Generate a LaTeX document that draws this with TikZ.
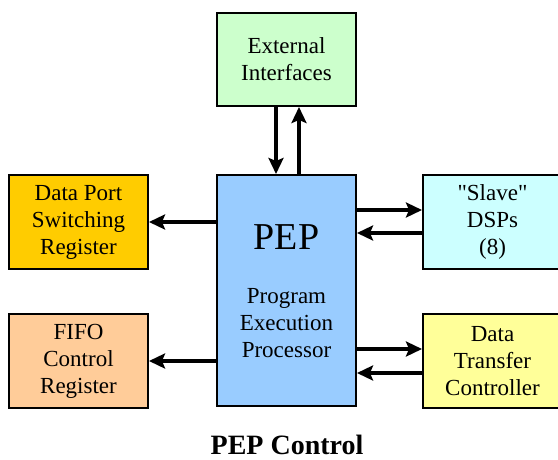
\documentclass[tikz,border=0pt]{standalone}
\usepackage{fontspec}
\setmainfont{Liberation Serif}
\usetikzlibrary{arrows.meta}

\definecolor{extgreen}{HTML}{CCFFCC}
\definecolor{pepblue}{HTML}{99CCFF}
\definecolor{dportgold}{HTML}{FFCC00}
\definecolor{fifopeach}{HTML}{FFCC99}
\definecolor{slavecyan}{HTML}{CCFFFF}
\definecolor{dtcyellow}{HTML}{FFFF99}

\begin{document}
\begin{tikzpicture}[x=1pt, y=-1pt,
  blk/.style={draw=black, line width=2pt, minimum width=139pt, minimum height=94pt,
    inner sep=0pt, align=center, font=\fontsize{23}{27}\selectfont},
  link/.style={line width=3.5pt, -{Stealth[length=16pt,width=15pt,inset=3pt]}}]

  \useasboundingbox (0,0) rectangle (558,459);

  % Centre block
  \node[blk, fill=pepblue, minimum height=231pt] (pep) at (286.5,290.5) {};
  \node[font=\fontsize{38}{40}\selectfont] (peptitle) at (286.5,237.5) {PEP};
  \node[align=center, font=\fontsize{23}{27}\selectfont] (pepname) at (286.5,323) {Program\\Execution\\Processor};

  % Top block
  \node[blk, fill=extgreen, minimum height=93pt] (ext) at (286.5,59.5) {External\\Interfaces};

  % Left blocks
  \node[blk, fill=dportgold] (dport) at (78.5,222) {Data Port\\Switching\\Register};
  \node[blk, fill=fifopeach] (fifo) at (78.5,361) {FIFO\\Control\\Register};

  % Right blocks
  \node[blk, fill=slavecyan] (slave) at (492.5,222) {\textquotedbl Slave\textquotedbl\\DSPs\\(8)};
  \node[blk, fill=dtcyellow] (dtc) at (492.5,361) {Data\\Transfer\\Controller};

  % Arrows
  \draw[link] ([xshift=-10.5pt]ext.south) -- ([xshift=-10.5pt]pep.north);
  \draw[link] ([xshift=12.5pt]pep.north) -- ([xshift=12.5pt]ext.south);
  \draw[link] (pep.west |- dport.east) -- (dport.east);
  \draw[link] (pep.west |- fifo.east) -- (fifo.east);
  \draw[link] ([yshift=12pt]pep.east |- slave.west) -- ([yshift=12pt]slave.west);
  \draw[link] ([yshift=-11pt]slave.west) -- ([yshift=-11pt]pep.east |- slave.west);
  \draw[link] ([yshift=12pt]pep.east |- dtc.west) -- ([yshift=12pt]dtc.west);
  \draw[link] ([yshift=-12pt]dtc.west) -- ([yshift=-12pt]pep.east |- dtc.west);

  % Caption
  \node[anchor=base, font=\fontsize{28}{30}\selectfont\bfseries] (caption) at (287,454) {PEP Control};
\end{tikzpicture}
\end{document}
